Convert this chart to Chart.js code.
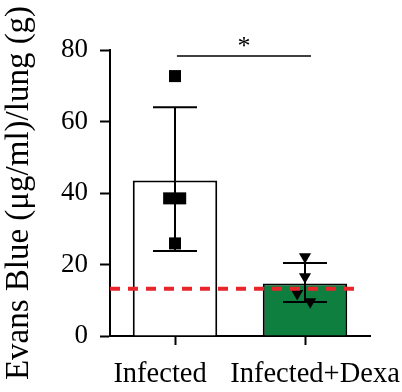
<!DOCTYPE html>
<html>
<head>
<meta charset="utf-8">
<script src="https://cdn.jsdelivr.net/npm/chart.js@4/dist/chart.umd.min.js"></script>
<style>
  html, body { margin: 0; padding: 0; background: #fff; }
  #wrap { width: 402px; height: 392px; }
</style>
</head>
<body>
<div id="wrap"><canvas id="evansChart" width="402" height="392"></canvas></div>
<script>
const categories = ['Infected', 'Infected+Dexa'];
const means = [43.5, 14.7];
const errTop = [64.0, 20.4];
const errBottom = [23.8, 9.5];
const infectedPts = [
    { x: 0, y: 72.7 },
    { x: -0.045, y: 38.5 },
    { x: 0.04, y: 38.5 },
    { x: 0, y: 25.9 }
];
const dexaPts = [
    { x: 1, y: 22.2 },
    { x: 1, y: 16.6 },
    { x: 0.94, y: 11.9 },
    { x: 1.04, y: 9.6 }
];
const baselineValue = 13.2;
const sigY = 78.3;

const serif = "'Liberation Serif', 'Times New Roman', serif";
// where the category names sit on the hidden linear axis (they are not centred under the bars)
const labelAt = [-0.115, 1.077];

const extrasPlugin = {
    id: 'extras',
    afterDatasetDraw(chart, args) {
        if (args.index !== 0) return;
        // error bars, drawn over the bars but under the points
        const ctx = chart.ctx;
        const x = chart.scales.x, y = chart.scales.y;
        ctx.save();
        ctx.strokeStyle = '#000';
        ctx.lineWidth = 2;
        means.forEach((m, i) => {
            const cx = x.getPixelForValue(i);
            const top = y.getPixelForValue(errTop[i]);
            const bot = y.getPixelForValue(errBottom[i]);
            ctx.beginPath();
            ctx.moveTo(cx, top); ctx.lineTo(cx, bot);
            ctx.moveTo(cx - 22, top); ctx.lineTo(cx + 22, top);
            ctx.moveTo(cx - 22, bot); ctx.lineTo(cx + 22, bot);
            ctx.stroke();
        });
        ctx.restore();
    },
    afterDatasetsDraw(chart) {
        const ctx = chart.ctx;
        const xp = chart.scales.xp, y = chart.scales.y;
        const area = chart.chartArea;
        ctx.save();
        // dashed reference line
        const yy = y.getPixelForValue(baselineValue);
        ctx.strokeStyle = '#e8262a';
        ctx.lineWidth = 4;
        ctx.setLineDash([10, 8]);
        ctx.beginPath();
        ctx.moveTo(area.left, yy);
        ctx.lineTo(xp.getPixelForValue(1.4), yy);
        ctx.stroke();
        ctx.setLineDash([]);
        // significance bracket
        const sy = y.getPixelForValue(sigY);
        const x1 = xp.getPixelForValue(0.015), x2 = xp.getPixelForValue(1.046);
        ctx.strokeStyle = '#000';
        ctx.lineWidth = 1.5;
        ctx.beginPath();
        ctx.moveTo(x1, sy); ctx.lineTo(x2, sy);
        ctx.stroke();
        ctx.fillStyle = '#000';
        ctx.font = '26px ' + serif;
        ctx.textAlign = 'center';
        ctx.textBaseline = 'alphabetic';
        ctx.fillText('*', (x1 + x2) / 2, sy - 2);
        ctx.restore();
    }
};

new Chart(document.getElementById('evansChart').getContext('2d'), {
    data: {
        labels: categories,
        datasets: [
            {
                type: 'bar',
                data: means,
                backgroundColor: ['#ffffff', '#0f7f40'],
                borderColor: '#000',
                borderWidth: 2,
                grouped: false,
                barPercentage: 0.65,
                categoryPercentage: 1,
                xAxisID: 'x',
                order: 2
            },
            {
                type: 'scatter',
                data: infectedPts,
                xAxisID: 'xp',
                pointStyle: 'rect',
                pointRadius: 8.5,
                backgroundColor: '#000',
                borderColor: '#000',
                borderWidth: 0,
                order: 1
            },
            {
                type: 'scatter',
                data: dexaPts,
                xAxisID: 'xp',
                pointStyle: 'triangle',
                rotation: 180,
                pointRadius: 7,
                backgroundColor: '#000',
                borderColor: '#000',
                borderWidth: 0,
                order: 1
            }
        ]
    },
    options: {
        responsive: false,
        animation: false,
        layout: { padding: { top: 50, right: 32, left: 0, bottom: 0 } },
        plugins: {
            legend: { display: false },
            tooltip: { enabled: false }
        },
        scales: {
            x: {
                type: 'category',
                offset: true,
                weight: 0,
                afterFit(scale) {
                    scale.height = 9;
                    scale.paddingLeft = 0;
                    scale.paddingRight = 0;
                },
                border: { color: '#000', width: 2 },
                grid: {
                    offset: false,
                    drawOnChartArea: false,
                    tickLength: 9,
                    tickWidth: 2,
                    tickColor: '#000'
                },
                ticks: { display: false }
            },
            xl: {
                type: 'linear',
                position: 'bottom',
                weight: 1,
                min: -0.5,
                max: 1.5,
                afterBuildTicks(scale) {
                    scale.ticks = labelAt.map(v => ({ value: v }));
                },
                afterFit(scale) {
                    scale.height = 47;
                    scale.paddingLeft = 0;
                    scale.paddingRight = 0;
                },
                border: { display: false },
                grid: { display: false, drawTicks: false },
                ticks: {
                    color: '#000',
                    padding: 12,
                    autoSkip: false,
                    maxRotation: 0,
                    callback: (v, i) => categories[i],
                    font: { family: serif, size: 28.5 }
                }
            },
            xp: {
                type: 'linear',
                display: false,
                min: -0.5,
                max: 1.5
            },
            y: {
                min: 0,
                max: 80,
                afterFit(scale) { scale.width = 110; },
                border: { color: '#000', width: 2 },
                grid: {
                    drawOnChartArea: false,
                    tickLength: 10,
                    tickWidth: 2,
                    tickColor: '#000'
                },
                ticks: {
                    stepSize: 20,
                    color: '#000',
                    padding: 12,
                    font: { family: serif, size: 27 }
                },
                title: {
                    display: true,
                    text: 'Evans Blue (μg/ml)/lung (g)',
                    color: '#000',
                    padding: 0,
                    font: { family: serif, size: 33 }
                }
            }
        }
    },
    plugins: [extrasPlugin]
});
</script>
</body>
</html>
